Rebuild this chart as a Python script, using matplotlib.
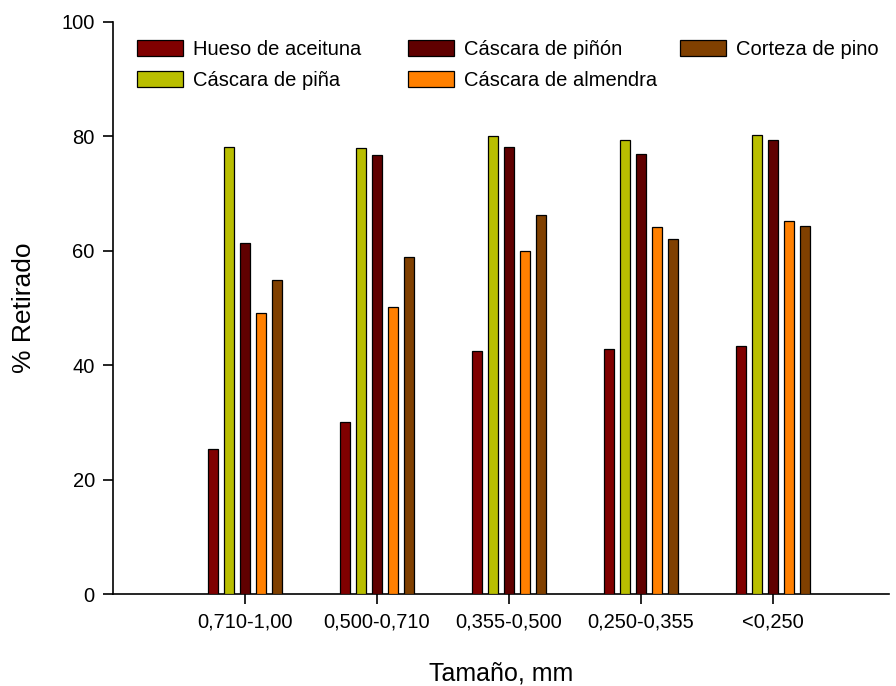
import matplotlib
matplotlib.use("Agg")
import matplotlib.pyplot as plt
import numpy as np

plt.rcParams['font.family'] = ['Liberation Sans', 'DejaVu Sans']

categories = ["0,710-1,00", "0,500-0,710", "0,355-0,500", "0,250-0,355", "<0,250"]
series_names = ["Hueso de aceituna", "Cáscara de piña", "Cáscara de piñón",
                "Cáscara de almendra", "Corteza de pino"]
hueso = [25.3, 30.0, 42.4, 42.9, 43.4]
pina = [78.1, 78.0, 80.0, 79.4, 80.3]
pinon = [61.4, 76.7, 78.2, 76.9, 79.3]
almendra = [49.2, 50.2, 60.0, 64.1, 65.2]
corteza = [54.9, 58.9, 66.3, 62.1, 64.3]
colors = ["#800000", "#B9BE00", "#600000", "#FF8000", "#804000"]

series = [hueso, pina, pinon, almendra, corteza]

fig = plt.figure(figsize=(8.96, 6.86), dpi=100)
ax = fig.add_axes([0.126, 0.134, 0.866, 0.834])

x = np.arange(len(categories))
offset = 0.121
width = 0.076
bars = []
for i, (vals, name, c) in enumerate(zip(series, series_names, colors)):
    b = ax.bar(x + (i - 2) * offset, vals, width=width, color=c, edgecolor='black',
               linewidth=0.9, label=name, zorder=3)
    bars.append(b)

ax.set_xlim(-1.0, 4.88)
ax.set_ylim(0, 100)
ax.set_yticks([0, 20, 40, 60, 80, 100])
ax.set_xticks(x)
ax.set_xticklabels(categories)
ax.spines['top'].set_visible(False)
ax.spines['right'].set_visible(False)
ax.spines['left'].set_linewidth(1.2)
ax.spines['bottom'].set_linewidth(1.2)
ax.tick_params(axis='both', direction='out', length=7, width=1.2, labelsize=14.5, pad=6)
ax.set_ylabel("% Retirado", fontsize=19, labelpad=18)
ax.set_xlabel("Tamaño, mm", fontsize=18, labelpad=22)

legend_cols = [([0, 1], 0.031), ([2, 3], 0.380), ([4], 0.731)]
for k, (idxs, xpos) in enumerate(legend_cols):
    leg = ax.legend([bars[i] for i in idxs], [series_names[i] for i in idxs],
                    loc='upper left', bbox_to_anchor=(xpos, 0.968), frameon=False,
                    fontsize=14.5, handlelength=2.3, handleheight=0.85,
                    handletextpad=0.5, labelspacing=0.6, borderaxespad=0.0,
                    borderpad=0.0)
    if k < len(legend_cols) - 1:
        ax.add_artist(leg)

fig.savefig("out.png", dpi=100)
